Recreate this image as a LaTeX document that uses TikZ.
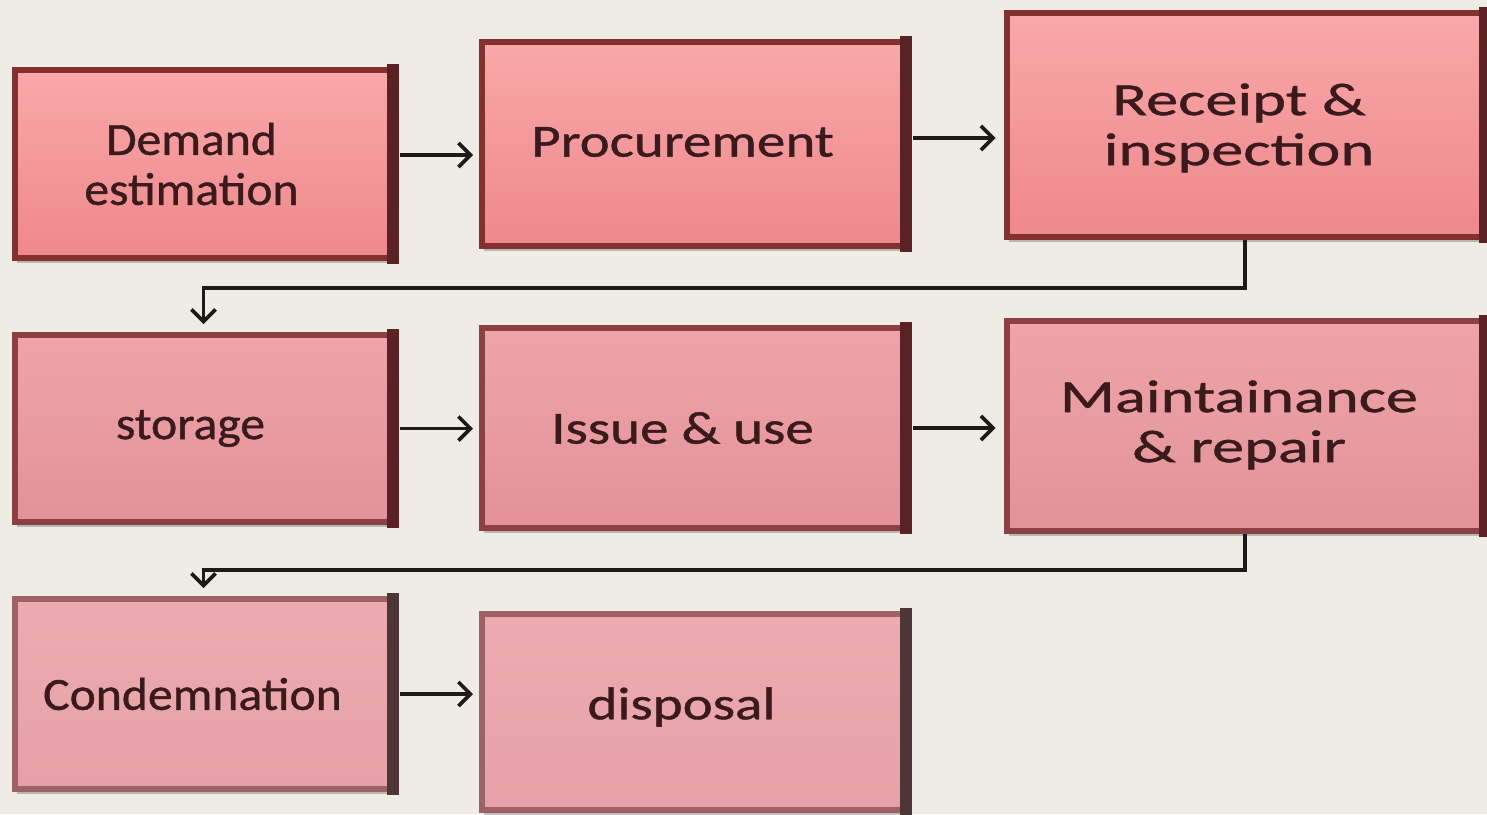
\documentclass[tikz,border=0pt]{standalone}
\usepackage{fontspec}
\setmainfont{Carlito}
\newfontfamily\fontA[FakeStretch=1.08,FakeBold=0.9]{Carlito}
\newfontfamily\fontB[FakeStretch=1.24,FakeBold=0.9]{Carlito}
\newfontfamily\fontC[FakeStretch=1.40,FakeBold=0.9]{Carlito}
\usetikzlibrary{arrows.meta,shadows}
\definecolor{bg}{HTML}{EFEBE5}
\definecolor{txt}{HTML}{3A1A1C}
\definecolor{rowAtop}{HTML}{F9A8A9}
\definecolor{rowAbot}{HTML}{EE888C}
\definecolor{rowAdraw}{HTML}{83302F}
\definecolor{rowBtop}{HTML}{EEA4A8}
\definecolor{rowBbot}{HTML}{E29298}
\definecolor{rowBdraw}{HTML}{8D4044}
\definecolor{rowCtop}{HTML}{ECABB0}
\definecolor{rowCbot}{HTML}{E6A1A7}
\definecolor{rowCdraw}{HTML}{9E6266}
\definecolor{edgeA}{HTML}{5A2225}
\definecolor{edgeC}{HTML}{4E3536}
\definecolor{arr}{HTML}{1E1A1A}
\tikzset{
  box/.style={rectangle, inner sep=0pt, align=center, text=txt, line width=6pt,
    drop shadow={shadow xshift=2pt, shadow yshift=-5pt, opacity=.22, fill=black}},
  boxA/.style={box, draw=rowAdraw, top color=rowAtop, bottom color=rowAbot},
  boxB/.style={box, draw=rowBdraw, top color=rowBtop, bottom color=rowBbot},
  boxC/.style={box, draw=rowCdraw, top color=rowCtop, bottom color=rowCbot},
  colA/.style={minimum width=377pt},
  colB/.style={minimum width=423pt},
  colC/.style={minimum width=477pt},
  lbl/.style={inner sep=0pt, align=center, text=txt},
  flow/.style={draw=arr, line width=3.6pt, -{Straight Barb[length=12pt,width=24pt,line width=3.6pt]}},
}
\begin{document}
\begin{tikzpicture}[x=1pt,y=-1pt]
\fill[bg] (0,0) rectangle (1487,814);
\useasboundingbox (0,0) rectangle (1487,814);

% row 1
\node[boxA, colA, minimum height=188pt] (dem) at (203.5,164) {};
\node[boxA, colB, minimum height=204pt] (proc) at (693.5,144) {};
\node[boxA, colC, minimum height=224pt] (rec) at (1245,125) {};
% row 2
\node[boxB, colA, minimum height=187pt] (sto) at (203.5,428.5) {};
\node[boxB, colB, minimum height=200pt] (iss) at (693.5,428) {};
\node[boxB, colC, minimum height=210pt] (mai) at (1245,426) {};
% row 3
\node[boxC, colA, minimum height=190pt] (con) at (203.5,694) {};
\node[boxC, colB, minimum height=196pt] (dis) at (693.5,712) {};

% dark right bevels
\foreach \n/\c in {dem/edgeA,proc/edgeA,rec/edgeA,sto/edgeA,iss/edgeA,mai/edgeA,con/edgeC,dis/edgeC}{
  \fill[\c] ([xshift=-8pt,yshift=3pt]\n.north east) rectangle ([xshift=4pt,yshift=-3pt]\n.south east);
}

% labels
\node[lbl, font=\fontA\fontsize{46}{50}\selectfont] (tdem) at ([xshift=-12pt]dem.center) {Demand\\estimation};
\node[lbl, font=\fontB\fontsize{46}{50}\selectfont] (tproc) at ([xshift=-11pt,yshift=2pt]proc.center) {Procurement};
\node[lbl, font=\fontC\fontsize{46}{50}\selectfont] (trec) at ([xshift=-6pt,yshift=-3pt]rec.center) {Receipt \&\\inspection};
\node[lbl, font=\fontA\fontsize{46}{50}\selectfont] (tsto) at ([xshift=-13pt]sto.center) {storage};
\node[lbl, font=\fontB\fontsize{46}{50}\selectfont] (tiss) at ([xshift=-11pt]iss.center) {Issue \& use};
\node[lbl, font=\fontC\fontsize{46}{50}\selectfont] (tmai) at ([xshift=-6pt,yshift=1pt]mai.center) {Maintainance\\\& repair};
\node[lbl, font=\fontA\fontsize{46}{50}\selectfont] (tcon) at ([xshift=-11pt]con.center) {Condemnation};
\node[lbl, font=\fontB\fontsize{46}{50}\selectfont] (tdis) at ([xshift=-12pt,yshift=5pt]dis.center) {disposal};

% connectors
\coordinate (a1) at ([yshift=9pt]dem.east);
\coordinate (a2) at ([yshift=6pt]proc.east);
\draw[flow, shorten <=5pt, shorten >=6pt] (a1) -- (a1 -| proc.west);
\draw[flow, shorten <=5pt, shorten >=8pt] (a2) -- (a2 -| rec.west);
\draw[flow, shorten >=8pt] (rec.south) -- ++(0,48) -| (sto.north);
\draw[flow, shorten <=5pt, shorten >=6pt] (sto.east) -- (sto.east -| iss.west);
\draw[flow, shorten <=5pt, shorten >=8pt] (iss.east) -- (iss.east -| mai.west);
\draw[flow, shorten >=8pt] (mai.south) -- ++(0,36) -| (con.north);
\draw[flow, shorten <=5pt, shorten >=6pt] (con.east) -- (con.east -| dis.west);
\end{tikzpicture}
\end{document}
